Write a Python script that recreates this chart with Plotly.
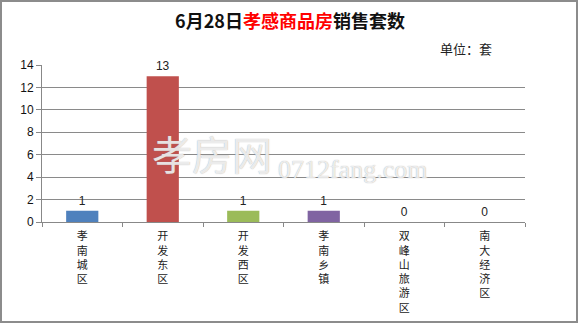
import plotly.graph_objects as go

categories = ["孝南城区", "开发东区", "开发西区", "孝南乡镇", "双峰山旅游区", "南大经济区"]
values = [1, 13, 1, 1, 0, 0]
colors = ["#4F81BD", "#C0504D", "#9BBB59", "#8064A2", "#4BACC6", "#F79646"]
y_ticks = [0, 2, 4, 6, 8, 10, 12, 14]

W, H = 579, 325
ML, MR, MT, MB = 42, 54, 65, 103
PW, PH = W - ML - MR, H - MT - MB

def px_x(p):
    return (p - ML) / PW

def px_y(p):
    return 1 - (p - MT) / PH

ticktext = ["<br>".join(list(c)) for c in categories]

fig = go.Figure()
fig.add_trace(go.Bar(
    x=categories, y=values,
    marker=dict(color=colors, line=dict(width=0)),
    text=[str(v) for v in values], textposition="outside",
    textfont=dict(family="Liberation Sans, Arial", size=12, color="#222"),
    cliponaxis=False, width=0.4,
))

fig.update_layout(
    width=W, height=H,
    margin=dict(l=ML, r=MR, t=MT, b=MB, autoexpand=False),
    paper_bgcolor="white", plot_bgcolor="white",
    showlegend=False,
    title=dict(
        text="<b>6月28日<span style='color:#FF0000'>孝感商品房</span>销售套数</b>",
        x=290 / W, xanchor="center", y=1 - 22 / H, yanchor="middle",
        xref="container", yref="container",
        font=dict(family="Noto Sans CJK SC", size=18, color="#111"),
    ),
    xaxis=dict(
        tickmode="array", tickvals=categories, ticktext=ticktext,
        tickangle=0, showline=True, linecolor="#888", linewidth=1,
        ticks="outside", tickson="boundaries", ticklen=4, tickcolor="#888",
        tickfont=dict(family="Noto Sans CJK SC", size=11, color="#222"),
        ticklabelstandoff=4,
        showgrid=False, automargin=False,
    ),
    yaxis=dict(
        range=[0, 14], tickvals=y_ticks, showline=True, linecolor="#888", linewidth=1,
        ticks="outside", ticklen=5, tickcolor="#888",
        gridcolor="#8a8a8a", gridwidth=1, zeroline=False, automargin=False,
        tickfont=dict(family="Liberation Sans, Arial", size=12, color="#111"),
    ),
    font=dict(family="Noto Sans CJK SC"),
)

# unit label
fig.add_annotation(
    text="单位：套", x=px_x(494), y=px_y(48), xref="paper", yref="paper",
    xanchor="right", yanchor="middle",
    showarrow=False, font=dict(family="Noto Sans CJK SC", size=13, color="#222"),
)

# watermark
fig.add_annotation(
    text="孝房网", x=px_x(212), y=px_y(184), xref="paper", yref="paper",
    showarrow=False,
    font=dict(family="Noto Sans CJK SC", size=40, color="rgba(255,255,255,0.8)",
              shadow="0px 0px 1px #888"),
)
fig.add_annotation(
    text="0712fang.com", x=px_x(352), y=px_y(186), xref="paper", yref="paper",
    showarrow=False,
    font=dict(family="Liberation Serif", size=26, color="rgba(255,255,255,0.8)",
              shadow="0px 0px 1px #888"),
)

# outer border
fig.add_shape(
    type="rect", xref="paper", yref="paper",
    x0=px_x(1), x1=px_x(577), y0=px_y(322), y1=px_y(1),
    line=dict(color="#8c8c8c", width=2), fillcolor="rgba(0,0,0,0)", layer="above",
)

fig.write_html("out.html")
